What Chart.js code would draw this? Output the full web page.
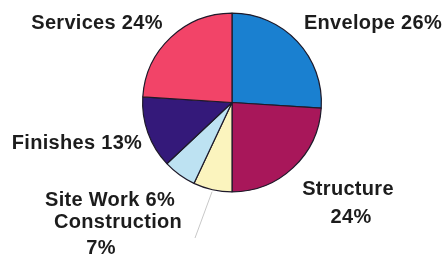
<!DOCTYPE html>
<html>
<head>
<meta charset="utf-8">
<script src="https://cdn.jsdelivr.net/npm/chart.js@4/dist/chart.umd.min.js"></script>
<style>
	html, body { margin: 0; padding: 0; background: #fff; }
	#wrap { width: 443px; height: 255px; position: relative; }
</style>
</head>
<body>
<div id="wrap"><canvas id="myChart" width="443" height="255"></canvas></div>
<script>
// data
const categories = ['Envelope', 'Structure', 'Construction', 'Site Work', 'Finishes', 'Services'];
const shares = [26, 24, 7, 6, 13, 24];
const sliceColors = ['#1a80d0', '#a8175a', '#fbf4be', '#bde2f2', '#34197a', '#f24468'];

// label text lines and where they sit (canvas px)
const labelLines = [
	[{ t: 'Envelope 26%', x: 373, y: 23 }],
	[{ t: 'Structure', x: 348, y: 189 }, { t: '24%', x: 351, y: 217 }],
	[{ t: 'Construction', x: 118, y: 222 }, { t: '7%', x: 101, y: 248 }],
	[{ t: 'Site Work 6%', x: 110, y: 200 }],
	[{ t: 'Finishes 13%', x: 77, y: 143 }],
	[{ t: 'Services 24%', x: 97, y: 23 }]
];

const labelPlugin = {
	id: 'labels',
	afterDraw(chart) {
		const ctx = chart.ctx;
		ctx.save();
		// leader line for Construction
		const arc = chart.getDatasetMeta(0).data[2];
		const mid = (arc.startAngle + arc.endAngle) / 2;
		ctx.strokeStyle = '#c8c8c8';
		ctx.lineWidth = 1;
		ctx.beginPath();
		ctx.moveTo(arc.x + Math.cos(mid) * (arc.outerRadius + 2), arc.y + Math.sin(mid) * (arc.outerRadius + 2));
		ctx.lineTo(195, 238);
		ctx.stroke();

		ctx.font = 'bold 20px "Liberation Sans", Arial, sans-serif';
		ctx.letterSpacing = '0.3px';
		ctx.fillStyle = '#1c1c1c';
		ctx.textAlign = 'center';
		ctx.textBaseline = 'middle';
		labelLines.forEach(lines => {
			lines.forEach(l => ctx.fillText(l.t, l.x, l.y));
		});
		ctx.restore();
	}
};

const ctx = document.getElementById('myChart').getContext('2d');
let myChart = new Chart(ctx, {
	type: 'pie',
	data: {
		labels: categories,
		datasets: [{
			data: shares,
			backgroundColor: sliceColors,
			borderColor: '#1e1a2a',
			borderWidth: 1.2,
		}]
	},
	options: {
		responsive: false,
		animation: false,
		layout: {
			padding: { left: 142, right: 121, top: 12, bottom: 62 }
		},
		plugins: {
			legend: { display: false },
			tooltip: { enabled: false },
		}
	},
	plugins: [labelPlugin]
});
</script>
</body>
</html>
